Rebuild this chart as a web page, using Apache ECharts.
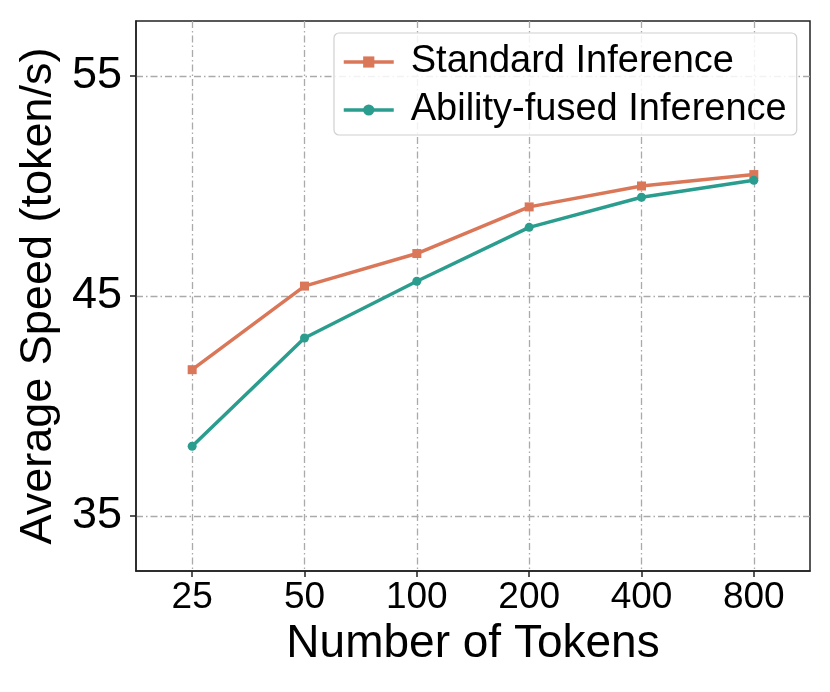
<!DOCTYPE html>
<html>
  <head>
    <meta charset="UTF-8">
    <title>speed chart</title>
    <script src="https://cdn.jsdelivr.net/npm/echarts@6/dist/echarts.min.js"></script>
    <style>
      html, body { margin: 0; padding: 0; background: #fff; }
      #main { width: 830px; height: 692px; }
    </style>
  </head>
  <body>
    <div id="main"></div>
    <script type="text/javascript">
      // data
      var tokens = ['25', '50', '100', '200', '400', '800'];
      var standard = [41.65, 45.45, 46.93, 49.05, 50.0, 50.52];
      var fused = [38.17, 43.09, 45.67, 48.12, 49.49, 50.26];
      var yTicks = [35, 45, 55];

      var font = "'Liberation Sans', Arial, sans-serif";
      var xTicks = tokens.map(function (t, i) { return i; });

      function pairs(arr) {
        return arr.map(function (v, i) { return [i, v]; });
      }

      var chart = echarts.init(document.getElementById('main'));
      var gridLine = { color: '#aaaaaa', width: 1.3, type: [7, 3, 1.5, 3] };

      chart.setOption({
        animation: false,
        textStyle: { fontFamily: font },
        grid: {
          left: 136, right: 20, top: 21, bottom: 121,
          show: true, borderColor: '#222', borderWidth: 1.5
        },
        legend: {
          orient: 'vertical',
          left: 334, top: 33,
          padding: [10, 10, 6, 8],
          itemGap: 10,
          itemWidth: 50, itemHeight: 14,
          lineStyle: { width: 3.5 },
          borderColor: '#d0d0d0', borderWidth: 1.2, borderRadius: 5,
          backgroundColor: 'rgba(255,255,255,0.85)',
          textStyle: { fontSize: 38, color: '#000', fontFamily: font, padding: [0, 0, 0, 12] },
          data: ['Standard Inference', 'Ability-fused Inference']
        },
        xAxis: {
          type: 'value',
          min: -0.5, max: 5.5,
          name: 'Number of Tokens',
          nameLocation: 'middle',
          nameGap: 47,
          nameTextStyle: { fontSize: 46, color: '#000', fontFamily: font },
          axisLine: { show: true, onZero: false, lineStyle: { color: '#222', width: 1.5 } },
          axisTick: { show: true, customValues: xTicks, length: 6, lineStyle: { color: '#222', width: 1.5 } },
          axisLabel: {
            customValues: xTicks, fontSize: 37, color: '#000', margin: 8,
            formatter: function (v) { return tokens[v]; }
          },
          splitLine: { show: true, lineStyle: gridLine }
        },
        yAxis: {
          type: 'value',
          min: 32.5, max: 57.5,
          name: 'Average Speed (token/s)',
          nameLocation: 'middle',
          nameGap: 70,
          nameTextStyle: { fontSize: 45, color: '#000', fontFamily: font },
          axisLine: { show: true, onZero: false, lineStyle: { color: '#222', width: 1.5 } },
          axisTick: { show: true, customValues: yTicks, length: 6, lineStyle: { color: '#222', width: 1.5 } },
          axisLabel: { customValues: yTicks, fontSize: 45, color: '#000', margin: 14 },
          splitLine: { show: true, lineStyle: gridLine }
        },
        series: [
          {
            name: 'Standard Inference',
            type: 'line',
            data: pairs(standard),
            symbol: 'rect', symbolSize: 9,
            color: '#da7759',
            lineStyle: { width: 3.5 },
            z: 3
          },
          {
            name: 'Ability-fused Inference',
            type: 'line',
            data: pairs(fused),
            symbol: 'circle', symbolSize: 9,
            color: '#2a9d8f',
            lineStyle: { width: 3.5 },
            z: 3
          }
        ]
      });
    </script>
  </body>
</html>
